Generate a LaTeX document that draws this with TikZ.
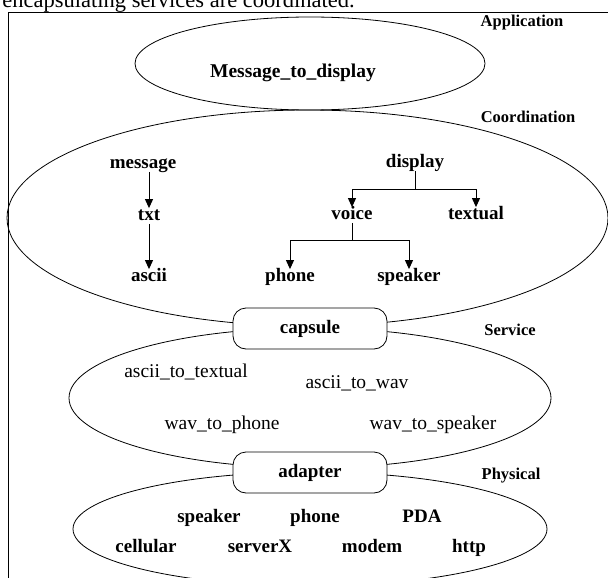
\documentclass[tikz,border=0pt]{standalone}
\usepackage{fontspec}
\setmainfont{Liberation Serif}
\usetikzlibrary{arrows.meta}

\begin{document}
\begin{tikzpicture}[x=1pt,y=-1pt,line width=0.8pt,
  layer/.style={font=\bfseries\fontsize{16.5}{17}\selectfont},
  tree/.style={font=\bfseries\fontsize{19}{19}\selectfont,text height=9pt,text depth=0pt,inner sep=3pt},
  svc/.style={font=\fontsize{19.5}{20}\selectfont},
  capsulebox/.style={draw,fill=white,rounded corners=13pt,minimum width=154pt,minimum height=41pt,inner sep=0pt,font=\bfseries\fontsize{19}{19}\selectfont},
  arr/.style={-{Triangle[length=9pt,width=8pt]},line width=1pt}]
\clip (0,0) rectangle (608,578);
\node[anchor=base west,inner sep=0pt,font=\fontsize{22.5}{24}\selectfont] (caption) at (2,8) {encapsulating services are coordinated.};
\draw (8,590) -- (8,12) -- (620,12);

\draw (310,63.5) ellipse [x radius=175,y radius=46.5];
\draw (307.5,218) ellipse [x radius=300.5,y radius=108];
\draw (310,398) ellipse [x radius=241,y radius=70];
\draw (310,529) ellipse [x radius=237,y radius=57];

\node[layer] (app) at (522,23) {Application};
\node[layer] (coord) at (528,117) {Coordination};
\node[layer] (serv) at (510,330) {Service};
\node[layer] (phys) at (511,476) {Physical};

\node[tree,font=\bfseries\fontsize{19.5}{20}\selectfont] (msgdisp) at (293,73) {Message\_to\_display};

\node[tree] (message) at (143,164) {message};
\node[tree] (txt) at (149,216) {txt};
\node[tree] (ascii) at (149,277) {ascii};
\draw[arr] (txt.north |- message.south) -- (txt);
\draw[arr] (txt) -- (ascii);

\node[tree] (display) at (415,163) {display};
\node[tree] (voice) at (352,215) {voice};
\node[tree] (textual) at (476,215) {textual};
\node[tree] (phone) at (290,277) {phone};
\node[tree] (speaker) at (409,277) {speaker};
\draw[arr] (display.south) -- +(0,18.5) -| (voice);
\draw[arr] (display.south) ++(0,18.5) -| (textual);
\draw[arr] (voice.south) -- +(0,17.5) -| (phone);
\draw[arr] (voice.south) ++(0,17.5) -| (speaker);

\node[capsulebox] (capsule) at (310,328.5) {capsule};
\node[capsulebox] (adapter) at (310,472.5) {adapter};

\node[svc] (a2t) at (186,372) {ascii\_to\_textual};
\node[svc] (a2w) at (357,383) {ascii\_to\_wav};
\node[svc] (w2p) at (222,425) {wav\_to\_phone};
\node[svc] (w2s) at (433,425) {wav\_to\_speaker};

\node[tree] (pspeaker) at (209,518) {speaker};
\node[tree] (pphone) at (315,518) {phone};
\node[tree] (pda) at (422,518) {PDA};
\node[tree] (cellular) at (146,548) {cellular};
\node[tree] (serverx) at (260,548) {serverX};
\node[tree] (modem) at (372,548) {modem};
\node[tree] (http) at (469,548) {http};
\end{tikzpicture}
\end{document}
